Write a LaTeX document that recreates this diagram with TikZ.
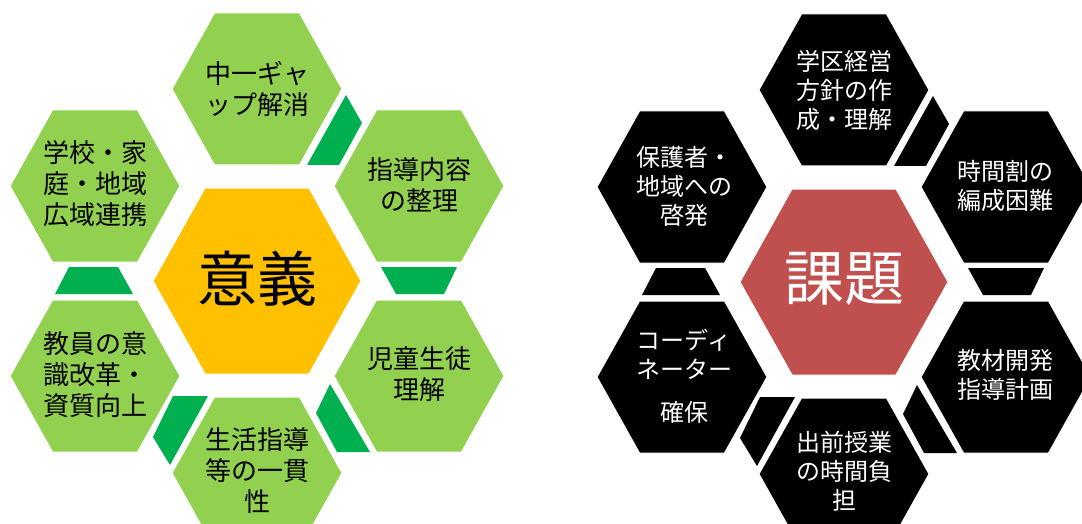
\documentclass[tikz,border=0pt]{standalone}
\usepackage{fontspec}
\setmainfont{Noto Sans CJK JP}
\definecolor{lgreen}{HTML}{92D050}
\definecolor{dgreen}{HTML}{00B050}
\definecolor{goldc}{HTML}{FFC000}
\definecolor{redc}{HTML}{C0504D}
\newcommand\hexa[5]{\path[fill=#1,draw=white,line width=1pt] ({#2-#4},#3) -- ({#2-#4/2},{#3-#5/2}) -- ({#2+#4/2},{#3-#5/2}) -- ({#2+#4},#3) -- ({#2+#4/2},{#3+#5/2}) -- ({#2-#4/2},{#3+#5/2}) -- cycle;}
\newcommand\hexcluster[3]{%
  \hexa{#1}{257}{89}{85}{152}
  \hexa{#1}{95}{186}{85}{152}
  \hexa{#1}{419}{186}{85}{152}
  \hexa{#1}{95}{376}{85}{152}
  \hexa{#1}{419}{376}{85}{152}
  \hexa{#1}{257}{473}{85}{152}
  \hexa{#2}{257}{281}{104}{186}
  \fill[#3] (346,95) -- (362,123) -- (339,165) -- (307,165) -- cycle;
  \fill[#3] (381,267) -- (457,267) -- (444,294) -- (396,294) -- cycle;
  \fill[#3] (330,384) -- (370,452) -- (337,452) -- (316,413) -- cycle;
  \fill[#3] (173,396) -- (208,396) -- (170,465) -- (153,437) -- cycle;
  \fill[#3] (69,267) -- (118,267) -- (133,294) -- (55,294) -- cycle;
}
\tikzset{
  lbl/.style={align=center, inner sep=0pt, font=\fontsize{26}{31}\selectfont},
  rlbl/.style={align=center, inner sep=0pt, text=white, font=\fontsize{24}{29}\selectfont},
  bigtext/.style={inner sep=0pt, font=\fontsize{60}{60}\selectfont}
}
\begin{document}
\begin{tikzpicture}[x=1pt,y=-1pt]
\clip (0,0) rectangle (1082,524);
\fill[white] (0,0) rectangle (1082,524);
% left cluster
\hexcluster{lgreen}{goldc}{dgreen}
\node[bigtext] (igi) at (257,279) {意義};
\node[lbl] (l1) at (257,88.5) {中一ギャ\\ップ解消};
\node[lbl] (l2) at (95,184) {学校・家\\庭・地域\\広域連携};
\node[lbl] (l3) at (419,185) {指導内容\\の整理};
\node[lbl] (l4) at (95,375) {教員の意\\識改革・\\資質向上};
\node[lbl] (l5) at (419,374.5) {児童生徒\\理解};
\node[lbl] (l6) at (257,471) {生活指導\\等の一貫\\性};
% right cluster
\begin{scope}[xshift=587pt,yshift=-1pt]
\hexcluster{black}{redc}{black}
\end{scope}
\node[bigtext,text=white] (kadai) at (844,279) {課題};
\node[rlbl] (r1) at (844,90) {学区経営\\方針の作\\成・理解};
\node[rlbl] (r2) at (684,186) {保護者・\\地域への\\啓発};
\node[rlbl] (r3) at (1005,185.5) {時間割の\\編成困難};
\node[rlbl] (r4a) at (684,354.5) {コーディ\\ネーター};
\node[rlbl] (r4b) at (684,412) {確保};
\node[rlbl] (r5) at (1005,374.5) {教材開発\\指導計画};
\node[rlbl] (r6) at (844,471.5) {出前授業\\の時間負\\担};
\end{tikzpicture}
\end{document}
